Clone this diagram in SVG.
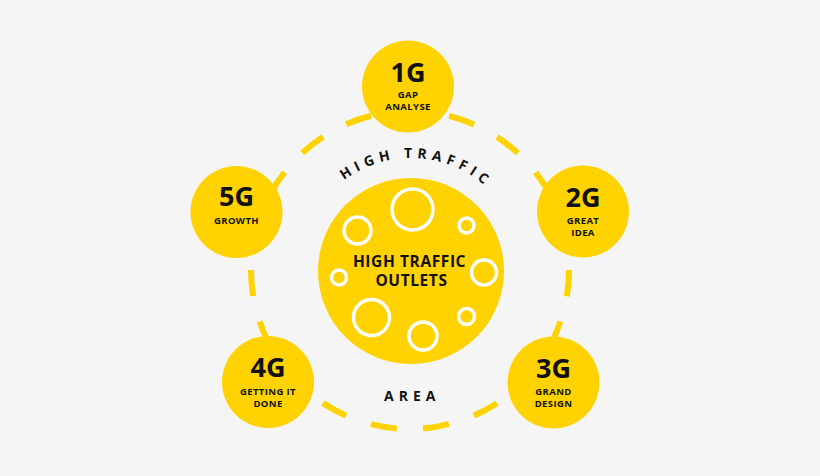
<svg xmlns="http://www.w3.org/2000/svg" width="820" height="476" viewBox="0 0 820 476">
<defs>
<style>
.bg{fill:#f5f5f5}
.node{fill:#ffd200}
.ring{fill:none;stroke:#ffd200;stroke-width:6;stroke-dasharray:26.29 26.29}
.bubble{fill:none;stroke:#ffffff;stroke-width:3.5}
.num{font-family:"Open Sans","DejaVu Sans",sans-serif;font-weight:700;font-size:27px;fill:#111;text-anchor:middle}
.lbl{font-family:"Open Sans","DejaVu Sans",sans-serif;font-weight:700;font-size:9.5px;letter-spacing:0.4px;fill:#111;text-anchor:middle}
.ctr{font-family:"Open Sans","DejaVu Sans",sans-serif;font-weight:700;font-size:15.5px;letter-spacing:0.6px;fill:#111;text-anchor:middle}
.arc{font-family:"Open Sans","DejaVu Sans",sans-serif;font-weight:700;font-size:14px;letter-spacing:5px;fill:#111}
</style>
<path id="topArc" d="M 298 271 A 113 113 0 0 1 524 271"/>
</defs>
<rect class="bg" x="0" y="0" width="820" height="476"/>

<g id="connectors">
<path class="ring" d="M 569 270 A 159 159 0 1 1 251 270 A 159 159 0 1 1 569 270"/>
</g>

<g id="center">
<circle class="node" cx="411" cy="271" r="93"/>
<circle class="bubble" cx="412.5" cy="209.5" r="20.5"/>
<circle class="bubble" cx="357.5" cy="230.5" r="13.5"/>
<circle class="bubble" cx="466.5" cy="225.5" r="7.5"/>
<circle class="bubble" cx="339" cy="277.5" r="7.5"/>
<circle class="bubble" cx="484" cy="272.5" r="12.5"/>
<circle class="bubble" cx="371.5" cy="317.5" r="18"/>
<circle class="bubble" cx="423" cy="336" r="14"/>
<circle class="bubble" cx="466.5" cy="316.5" r="8"/>
<text class="ctr" x="409.5" y="267">HIGH TRAFFIC</text>
<text class="ctr" x="411.5" y="286">OUTLETS</text>
</g>

<g id="label-high-traffic">
<text class="arc"><textPath href="#topArc" startOffset="51.7%" text-anchor="middle">HIGH TRAFFIC</textPath></text>
</g>
<g id="label-area">
<text class="arc" x="384" y="401">AREA</text>
</g>

<g id="node-1g">
<circle class="node" cx="408" cy="86.5" r="46"/>
<text class="num" x="408" y="81.5">1G</text>
<text class="lbl" x="408" y="97.5">GAP</text>
<text class="lbl" x="408" y="109.5">ANALYSE</text>
</g>
<g id="node-2g">
<circle class="node" cx="583" cy="211.5" r="46"/>
<text class="num" x="583" y="206.5">2G</text>
<text class="lbl" x="583" y="224">GREAT</text>
<text class="lbl" x="583" y="236">IDEA</text>
</g>
<g id="node-3g">
<circle class="node" cx="553.5" cy="382.5" r="46"/>
<text class="num" x="553.5" y="377.5">3G</text>
<text class="lbl" x="553.5" y="395">GRAND</text>
<text class="lbl" x="553.5" y="407">DESIGN</text>
</g>
<g id="node-4g">
<circle class="node" cx="268" cy="382" r="46"/>
<text class="num" x="268" y="377">4G</text>
<text class="lbl" x="268" y="395">GETTING IT</text>
<text class="lbl" x="268" y="407">DONE</text>
</g>
<g id="node-5g">
<circle class="node" cx="236.5" cy="212" r="46"/>
<text class="num" x="236.5" y="205.5">5G</text>
<text class="lbl" x="236.5" y="224">GROWTH</text>
</g>
</svg>
